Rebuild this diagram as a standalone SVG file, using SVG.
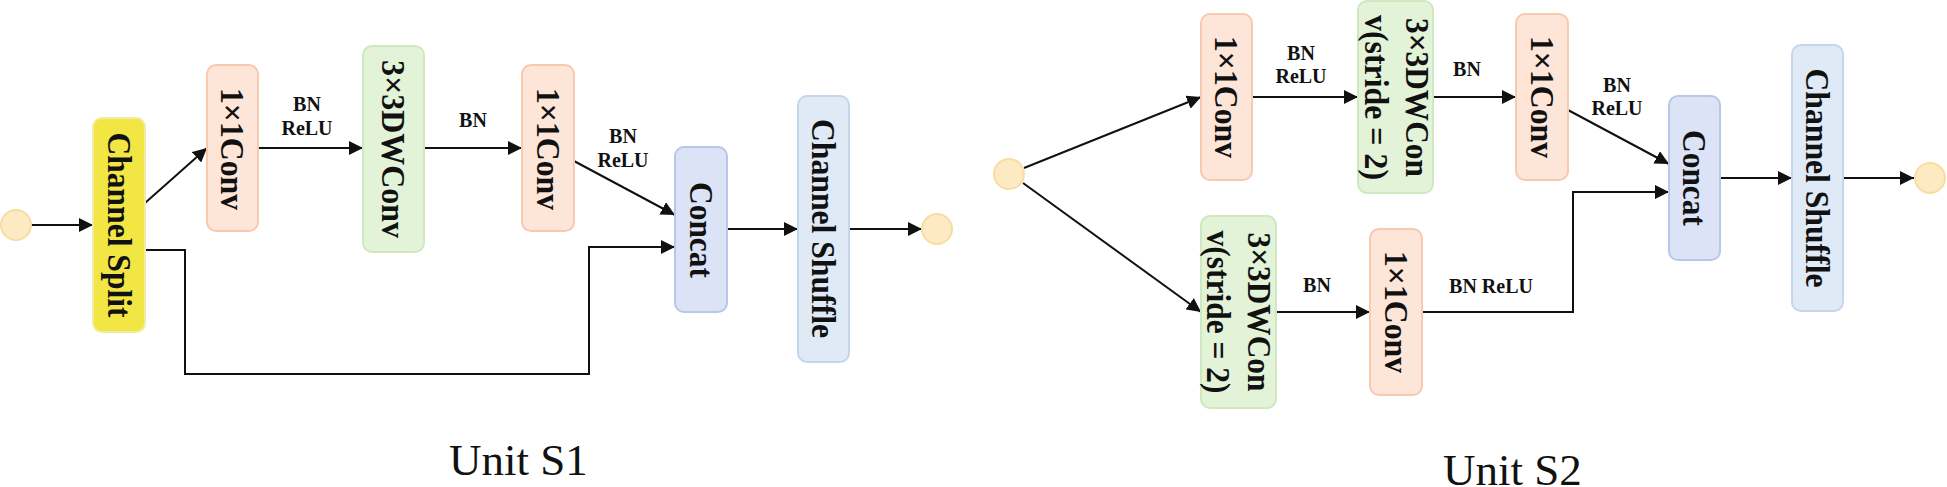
<svg xmlns="http://www.w3.org/2000/svg" width="1947" height="487" viewBox="0 0 1947 487">
<style>
.n{stroke-width:2}
.peach{fill:#fde5d8;stroke:#f7c9ae}
.green{fill:#e3f3d8;stroke:#cfe8bf}
.yellow{fill:#f1e644;stroke:#f2ec9e}
.blue{fill:#dce3f6;stroke:#b8c6e8}
.lblue{fill:#dfeaf6;stroke:#c2d6ec}
.io{fill:#fde9c2;stroke:#f8dca2;stroke-width:2}
.t{font-family:"Liberation Serif","Times New Roman",serif;font-weight:bold;font-size:34px;fill:#111;text-anchor:middle;dominant-baseline:central}
.t2{font-size:33px}
.l{font-family:"Liberation Serif","Times New Roman",serif;font-weight:bold;font-size:20px;fill:#111;text-anchor:middle}
.cap{font-family:"Liberation Serif","Times New Roman",serif;font-size:45px;fill:#111}
.c{fill:none;stroke:#111;stroke-width:2;marker-end:url(#ah)}
</style>
<defs>
<marker id="ah" markerUnits="userSpaceOnUse" markerWidth="15" markerHeight="14" refX="14" refY="7" orient="auto">
<path d="M0,0 L14,7 L0,14 z" fill="#111"/>
</marker>
</defs>

<g id="connectors">
<line class="c" x1="31" y1="225" x2="93" y2="225"/>
<line class="c" x1="145" y1="203" x2="207" y2="148"/>
<line class="c" x1="258" y1="148" x2="363" y2="148"/>
<line class="c" x1="424" y1="148" x2="522" y2="148"/>
<line class="c" x1="574" y1="161" x2="675" y2="215"/>
<polyline class="c" points="145,250 185,250 185,374 589,374 589,247 675,247"/>
<line class="c" x1="727" y1="229" x2="798" y2="229"/>
<line class="c" x1="849" y1="229" x2="922" y2="229"/>

<line class="c" x1="1024" y1="168" x2="1201" y2="97"/>
<line class="c" x1="1252" y1="97" x2="1358" y2="97"/>
<line class="c" x1="1433" y1="97" x2="1516" y2="97"/>
<line class="c" x1="1568" y1="110" x2="1669" y2="164"/>
<line class="c" x1="1023" y1="183" x2="1201" y2="312"/>
<line class="c" x1="1276" y1="312" x2="1370" y2="312"/>
<polyline class="c" points="1422,312 1573,312 1573,192 1669,192"/>
<line class="c" x1="1720" y1="178" x2="1792" y2="178"/>
<line class="c" x1="1843" y1="178" x2="1914" y2="178"/>

<text class="l" x="307" y="111">BN</text>
<text class="l" x="307" y="135">ReLU</text>
<text class="l" x="473" y="127">BN</text>
<text class="l" x="623" y="143">BN</text>
<text class="l" x="623" y="167">ReLU</text>

<text class="l" x="1301" y="60">BN</text>
<text class="l" x="1301" y="83">ReLU</text>
<text class="l" x="1467" y="76">BN</text>
<text class="l" x="1617" y="92">BN</text>
<text class="l" x="1617" y="115">ReLU</text>
<text class="l" x="1317" y="292">BN</text>
<text class="l" x="1491" y="293">BN ReLU</text>
</g>

<!-- Unit S1 -->
<g id="s1-in"><circle class="io" cx="16" cy="225" r="15"/></g>
<g id="s1-split">
<rect class="n yellow" x="93" y="118" width="52" height="214" rx="9"/>
<text class="t" transform="translate(119,225) rotate(90)" textLength="185" lengthAdjust="spacingAndGlyphs">Channel Split</text>
</g>
<g id="s1-conv1">
<rect class="n peach" x="207" y="65" width="51" height="166" rx="9"/>
<text class="t" transform="translate(232.5,149) rotate(90)" textLength="122" lengthAdjust="spacingAndGlyphs">1×1Conv</text>
</g>
<g id="s1-dw">
<rect class="n green" x="363" y="46" width="61" height="206" rx="9"/>
<text class="t" transform="translate(393.5,149) rotate(90)" textLength="178" lengthAdjust="spacingAndGlyphs">3×3DWConv</text>
</g>
<g id="s1-conv2">
<rect class="n peach" x="522" y="65" width="52" height="166" rx="9"/>
<text class="t" transform="translate(548,149) rotate(90)" textLength="122" lengthAdjust="spacingAndGlyphs">1×1Conv</text>
</g>
<g id="s1-concat">
<rect class="n blue" x="675" y="147" width="52" height="165" rx="9"/>
<text class="t" transform="translate(701,230) rotate(90)" textLength="96" lengthAdjust="spacingAndGlyphs">Concat</text>
</g>
<g id="s1-shuffle">
<rect class="n lblue" x="798" y="96" width="51" height="266" rx="9"/>
<text class="t" transform="translate(823.5,228.5) rotate(90)" textLength="219" lengthAdjust="spacingAndGlyphs">Channel Shuffle</text>
</g>
<g id="s1-out"><circle class="io" cx="937" cy="229" r="15"/></g>
<text class="cap" x="449" y="475">Unit S1</text>

<!-- Unit S2 -->
<g id="s2-in"><circle class="io" cx="1009" cy="174" r="15"/></g>
<g id="s2-conv1">
<rect class="n peach" x="1201" y="14" width="51" height="166" rx="9"/>
<text class="t" transform="translate(1226.5,97) rotate(90)" textLength="122" lengthAdjust="spacingAndGlyphs">1×1Conv</text>
</g>
<g id="s2-dw1">
<rect class="n green" x="1358" y="1" width="75" height="192" rx="9"/>
<text class="t t2" transform="translate(1396,97.5) rotate(90)"><tspan x="0" y="-20.5" textLength="159" lengthAdjust="spacingAndGlyphs">3×3DWCon</tspan><tspan x="0" y="20.5" textLength="165" lengthAdjust="spacingAndGlyphs">v(stride = 2)</tspan></text>
</g>
<g id="s2-conv2">
<rect class="n peach" x="1516" y="14" width="52" height="166" rx="9"/>
<text class="t" transform="translate(1542,97) rotate(90)" textLength="122" lengthAdjust="spacingAndGlyphs">1×1Conv</text>
</g>
<g id="s2-dw2">
<rect class="n green" x="1201" y="216" width="75" height="192" rx="9"/>
<text class="t t2" transform="translate(1238.5,312) rotate(90)"><tspan x="0" y="-20.5" textLength="159" lengthAdjust="spacingAndGlyphs">3×3DWCon</tspan><tspan x="0" y="20.5" textLength="163" lengthAdjust="spacingAndGlyphs">v(stride = 2)</tspan></text>
</g>
<g id="s2-conv3">
<rect class="n peach" x="1370" y="229" width="52" height="166" rx="9"/>
<text class="t" transform="translate(1396,312) rotate(90)" textLength="122" lengthAdjust="spacingAndGlyphs">1×1Conv</text>
</g>
<g id="s2-concat">
<rect class="n blue" x="1669" y="96" width="51" height="164" rx="9"/>
<text class="t" transform="translate(1694.5,178) rotate(90)" textLength="96" lengthAdjust="spacingAndGlyphs">Concat</text>
</g>
<g id="s2-shuffle">
<rect class="n lblue" x="1792" y="45" width="51" height="266" rx="9"/>
<text class="t" transform="translate(1817.5,178) rotate(90)" textLength="219" lengthAdjust="spacingAndGlyphs">Channel Shuffle</text>
</g>
<g id="s2-out"><circle class="io" cx="1930" cy="178" r="15"/></g>
<text class="cap" x="1443" y="485" font-size="46">Unit S2</text>
</svg>
